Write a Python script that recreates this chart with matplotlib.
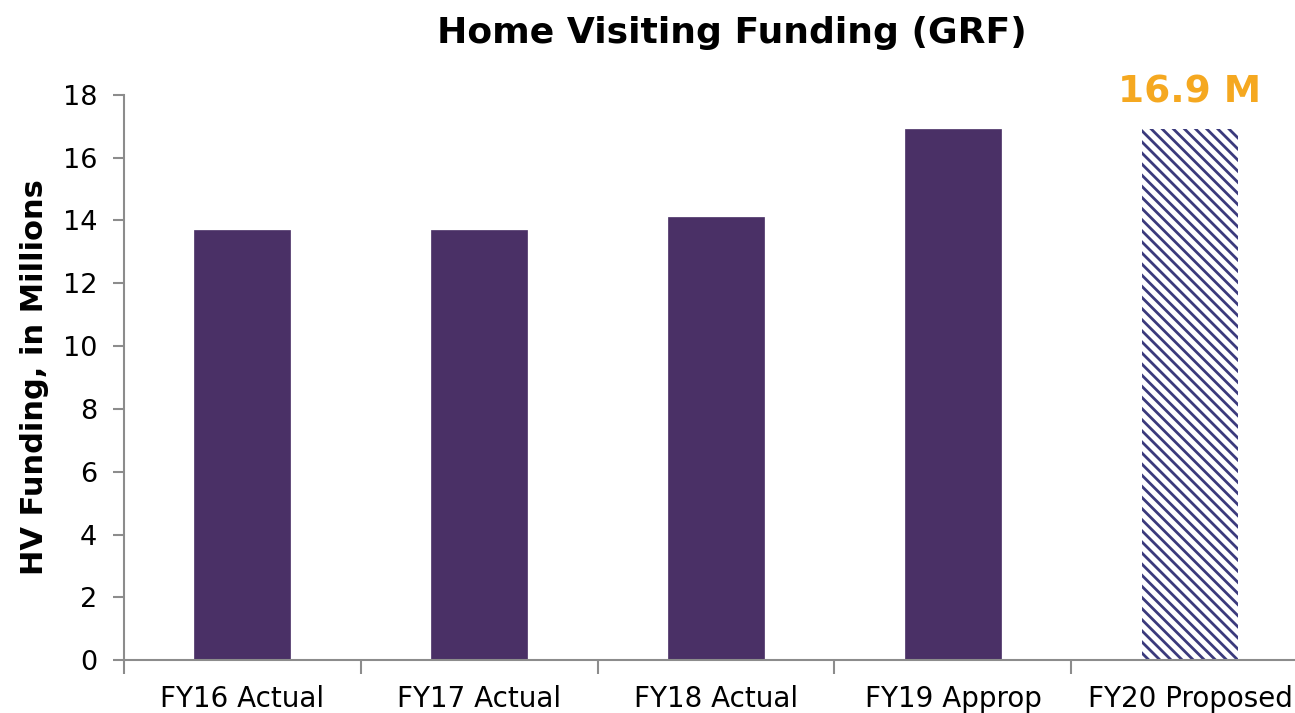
import matplotlib
matplotlib.use('Agg')
import matplotlib.pyplot as plt

categories = ['FY16 Actual', 'FY17 Actual', 'FY18 Actual', 'FY19 Approp', 'FY20 Proposed']
funding = [13.7, 13.7, 14.1, 16.9, 16.9]
proposed = [False, False, False, False, True]
y_ticks = [0, 2, 4, 6, 8, 10, 12, 14, 16, 18]

plt.rcParams['font.family'] = ['DejaVu Sans']
plt.rcParams['hatch.linewidth'] = 2.0

fig = plt.figure(figsize=(12.95, 7.13), dpi=100)
ax = fig.add_axes([0.0954, 0.074, 0.915, 0.793])

x = range(len(categories))
for i, (v, p) in enumerate(zip(funding, proposed)):
    if p:
        ax.bar(i, v, width=0.405, color='white', edgecolor='#3b3a7c',
               hatch='\\\\\\', linewidth=0)
        ax.text(i, v + 0.6, '%.1f M' % v, ha='center', va='bottom',
                fontsize=27, fontweight='bold', color='#f5a820')
    else:
        ax.bar(i, v, width=0.405, color='#4a3066', edgecolor='#4a3066', linewidth=0.5)

ax.set_xlim(-0.5, len(categories) - 0.5)
ax.set_ylim(0, 18)
ax.set_yticks(y_ticks)
ax.tick_params(axis='y', labelsize=19.5, length=8, color='#8c8c8c', width=1.5, pad=11)

ax.set_xticks([i + 0.5 for i in range(-1, len(categories))], minor=False)
ax.set_xticklabels([])
ax.set_xticks(list(x), minor=True)
ax.set_xticklabels(categories, minor=True)
ax.tick_params(axis='x', which='major', length=10, color='#8c8c8c', width=1.5)
ax.tick_params(axis='x', which='minor', length=0, labelsize=20, pad=18)

for s in ['top', 'right']:
    ax.spines[s].set_visible(False)
for s in ['left', 'bottom']:
    ax.spines[s].set_color('#8c8c8c')
    ax.spines[s].set_linewidth(1.5)

ax.set_ylabel('HV Funding, in Millions', fontsize=22, fontweight='bold', labelpad=10)
fig.suptitle('Home Visiting Funding (GRF)', fontsize=26, fontweight='bold', x=0.565, y=0.978)

fig.savefig('out.png', dpi=100)
